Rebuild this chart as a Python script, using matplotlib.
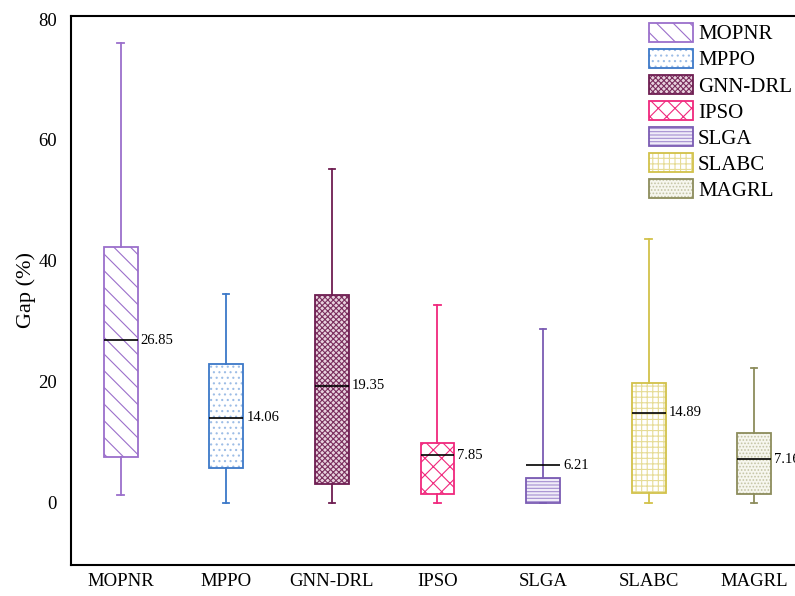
import matplotlib
matplotlib.use("Agg")
import matplotlib.pyplot as plt
from matplotlib.patches import Patch, PathPatch
from matplotlib.legend_handler import HandlerTuple

plt.rcParams['font.family'] = ['Liberation Serif', 'DejaVu Serif']
plt.rcParams['hatch.linewidth'] = 0.8

methods = ["MOPNR", "MPPO", "GNN-DRL", "IPSO", "SLGA", "SLABC", "MAGRL"]
whislo = [1.2, 0.0, 0.0, 0.0, 0.0, 0.0, 0.0]
q1 = [7.6, 5.8, 3.1, 1.5, 0.0, 1.6, 1.5]
medians = [26.85, 14.06, 19.35, 7.85, 6.21, 14.89, 7.16]
q3 = [42.3, 23.0, 34.4, 9.9, 4.1, 19.8, 11.6]
whishi = [76.0, 34.5, 55.2, 32.7, 28.8, 43.6, 22.3]

colors = ["#9B6FCB", "#3C78C8", "#6E1E52", "#F0287D", "#7B5CB3", "#D2C24A", "#8C8C5C"]
hatch_colors = ["#9B6FCB", "#9DBDE6", "#7A2E5E", "#F0287D", "#A48ED0", "#E6DC96", "#C4C4A6"]
hatches = ["\\\\", "...", "xxxxxx", "xx", "-----", "+++", "....."]
facecolors = ["white", "white", "#E8D2DE", "white", "#F0ECF8", "white", "#F6F6EE"]

fig = plt.figure(figsize=(7.95, 5.96), dpi=100)
left, right, top, bottom = 71, 807, 16, 565
ax = fig.add_axes([left / 795, 1 - bottom / 596, (right - left) / 795, (bottom - top) / 596])

stats = []
for i, m in enumerate(methods):
    stats.append(dict(label=m, whislo=whislo[i], q1=q1[i], med=medians[i],
                      q3=q3[i], whishi=whishi[i], fliers=[]))

pos = list(range(len(methods)))
bw = 0.32
res = ax.bxp(stats, positions=pos, widths=bw, patch_artist=True, showfliers=False,
             capwidths=0.06, manage_ticks=False)

for i, b in enumerate(res['boxes']):
    b.set_facecolor(facecolors[i])
    b.set_edgecolor('none')
    b.set_zorder(1.5)
    hp = PathPatch(b.get_path(), transform=b.get_transform(), facecolor='none',
                   edgecolor=hatch_colors[i], hatch=hatches[i], linewidth=0, zorder=1.6)
    ax.add_patch(hp)
    op = PathPatch(b.get_path(), transform=b.get_transform(), facecolor='none',
                   edgecolor=colors[i], linewidth=1.3, zorder=1.7)
    ax.add_patch(op)
for i in range(len(methods)):
    for w in res['whiskers'][2 * i:2 * i + 2]:
        w.set_color(colors[i]); w.set_linewidth(1.3)
    for c in res['caps'][2 * i:2 * i + 2]:
        c.set_color(colors[i]); c.set_linewidth(1.3)
    res['medians'][i].set_color('black')
    res['medians'][i].set_linewidth(1.2)
    res['medians'][i].set_zorder(2)
    ax.text(pos[i] + bw / 2 + 0.03, medians[i], f"{medians[i]:.2f}", va='center', ha='left',
            fontsize=10.5)

ax.set_xlim(-0.47, 6.5)
ax.set_ylim(-10.3, 80.5)
ax.set_xticks(pos)
ax.set_xticklabels(methods, fontsize=15)
ax.set_yticks([0, 20, 40, 60, 80])
ax.tick_params(axis='both', length=0, labelsize=13.5, pad=10)
ax.tick_params(axis='x', pad=6)
ax.set_ylabel("Gap (%)", fontsize=16, labelpad=2)
ax.spines['right'].set_visible(False)
for s in ['left', 'top', 'bottom']:
    ax.spines[s].set_linewidth(1.5)

handles = [(Patch(facecolor=facecolors[i], edgecolor=hatch_colors[i], hatch=hatches[i], linewidth=0),
            Patch(facecolor='none', edgecolor=colors[i], linewidth=1.3))
           for i in range(len(methods))]
leg = fig.legend(handles, methods, loc='upper left', bbox_to_anchor=(649 / 795, 1 - 23 / 596),
                 bbox_transform=fig.transFigure, frameon=False, fontsize=15, borderpad=0,
                 handlelength=2.1, handleheight=1.0, handletextpad=0.25, labelspacing=0.22,
                 borderaxespad=0, handler_map={tuple: HandlerTuple(ndivide=1, pad=0)})

fig.savefig("out.png", dpi=100)
